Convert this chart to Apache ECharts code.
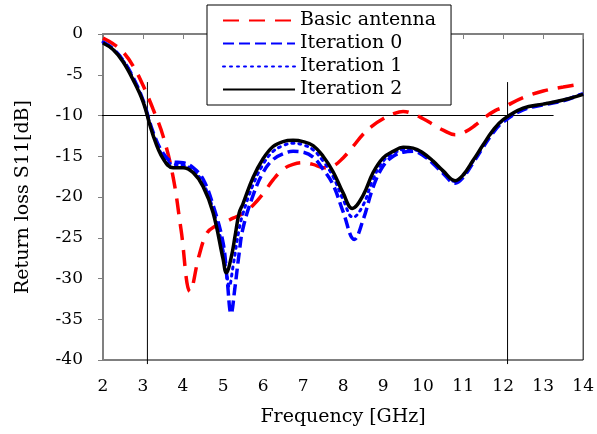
<!DOCTYPE html>
<html lang="en">
<head>
<meta charset="utf-8">
<title>Return loss S11</title>
<script src="https://cdn.jsdelivr.net/npm/echarts@6/dist/echarts.min.js"></script>
<style>
  html, body { margin: 0; padding: 0; background: #fff; }
  #chart { width: 597px; height: 434px; }
</style>
</head>
<body>
<div id="chart"></div>
<script type="text/javascript">
// tick labels
var xTicks = [2, 3, 4, 5, 6, 7, 8, 9, 10, 11, 12, 13, 14];
var yTicks = [0, -5, -10, -15, -20, -25, -30, -35, -40];

var seriesNames = ['Basic antenna', 'Iteration 0', 'Iteration 1', 'Iteration 2'];

// Basic antenna (GHz, dB)
var basicFreq = [2, 2.25, 2.5, 2.75, 3, 3.25, 3.5, 3.75, 3.95, 4.18, 4.4, 4.6, 4.8, 5, 5.25, 5.5, 5.75, 6, 6.25, 6.5, 6.75, 7, 7.25, 7.5, 7.75, 8, 8.25, 8.5, 8.75, 9, 9.25, 9.5, 9.75, 10, 10.25, 10.5, 10.8, 11.05, 11.3, 11.55, 11.8, 12, 12.5, 13, 13.5, 14];
var basicDb = [-0.5, -1.2, -2.2, -3.9, -6.3, -9.2, -12.5, -17.5, -24.0, -31.6, -27.2, -24.4, -23.6, -23.2, -22.6, -22.0, -21.0, -19.6, -17.9, -16.6, -16.0, -15.8, -16.0, -16.4, -16.2, -15.2, -13.8, -12.3, -11.2, -10.4, -9.8, -9.5, -9.8, -10.4, -11.1, -11.8, -12.35, -12.0, -11.2, -10.2, -9.4, -9.0, -7.8, -7.0, -6.5, -6.1];

// Iteration 0
var it0Freq = [2, 2.25, 2.5, 2.75, 3, 3.25, 3.5, 3.75, 4, 4.25, 4.5, 4.75, 5, 5.1, 5.2, 5.3, 5.4, 5.5, 5.75, 6, 6.25, 6.5, 6.75, 7, 7.25, 7.5, 7.75, 8, 8.28, 8.5, 8.75, 9, 9.25, 9.5, 9.75, 10, 10.25, 10.5, 10.8, 11, 11.25, 11.5, 11.75, 12, 12.5, 13, 13.5, 14];
var it0Db = [-1.0, -1.8, -3.2, -5.3, -8.1, -12.0, -14.6, -15.7, -15.8, -16.4, -17.8, -21.0, -25.6, -30.0, -34.3, -31.0, -27.0, -23.8, -19.8, -17.0, -15.4, -14.7, -14.4, -14.5, -15.1, -16.6, -18.5, -21.8, -25.2, -22.8, -18.8, -16.2, -15.0, -14.5, -14.4, -14.9, -15.9, -17.1, -18.3, -17.6, -15.8, -13.9, -12.1, -10.8, -9.3, -8.7, -8.2, -7.3];

// Iteration 1
var it1Freq = [2, 2.25, 2.5, 2.75, 3, 3.25, 3.5, 3.75, 4, 4.25, 4.5, 4.75, 5, 5.1, 5.15, 5.25, 5.4, 5.5, 5.75, 6, 6.25, 6.5, 6.75, 7, 7.25, 7.5, 7.75, 8, 8.25, 8.5, 8.75, 9, 9.25, 9.5, 9.75, 10, 10.25, 10.5, 10.8, 11, 11.25, 11.5, 11.75, 12, 12.5, 13, 13.5, 14];
var it1Db = [-1.0, -1.85, -3.25, -5.35, -8.2, -12.2, -15.0, -16.0, -16.1, -16.7, -18.3, -21.5, -26.5, -29.8, -31.0, -28.5, -24.0, -22.0, -18.5, -16.0, -14.4, -13.7, -13.4, -13.6, -14.2, -15.6, -17.5, -20.3, -22.5, -21.0, -17.8, -15.6, -14.7, -14.2, -14.2, -14.7, -15.7, -16.9, -18.1, -17.4, -15.6, -13.7, -11.9, -10.6, -9.2, -8.6, -8.1, -7.3];

// Iteration 2
var it2Freq = [2, 2.25, 2.5, 2.75, 3, 3.25, 3.5, 3.75, 4, 4.25, 4.5, 4.75, 5, 5.08, 5.2, 5.3, 5.4, 5.5, 5.75, 6, 6.25, 6.5, 6.75, 7, 7.25, 7.5, 7.75, 8, 8.23, 8.5, 8.75, 9, 9.25, 9.5, 9.75, 10, 10.25, 10.5, 10.8, 11, 11.25, 11.5, 11.75, 12, 12.5, 13, 13.5, 14];
var it2Db = [-1.1, -1.9, -3.4, -5.6, -8.3, -12.4, -15.3, -16.4, -16.4, -17.0, -18.7, -21.9, -27.6, -29.3, -27.5, -24.8, -22.0, -20.8, -17.6, -15.3, -13.8, -13.2, -13.05, -13.2, -13.7, -15.0, -16.9, -19.5, -21.4, -19.8, -17.0, -15.2, -14.4, -13.9, -14.0, -14.6, -15.6, -16.8, -18.0, -17.3, -15.5, -13.6, -11.8, -10.5, -9.1, -8.6, -8.1, -7.4];

// -10 dB marker and band edges
var markFreq = [1.44, 13.26, null, 3.11, 3.11, null, 12.11, 12.11];
var markDb = [-10, -10, null, -5.9, -40.5, null, -5.9, -40.5];

function pairs(xs, ys) {
  var out = [];
  for (var i = 0; i < xs.length; i++) {
    out.push(xs[i] === null ? [null, null] : [xs[i], ys[i]]);
  }
  return out;
}

var chart = echarts.init(document.getElementById('chart'));
var serif = 'DejaVu Serif';

chart.setOption({
  animation: false,
  backgroundColor: '#fff',
  grid: {
    left: 103, right: 11, top: 34, bottom: 74,
    show: true, borderColor: '#000', borderWidth: 1
  },
  legend: {
    data: seriesNames,
    orient: 'vertical',
    left: 207, top: 5,
    padding: [4, 15, 4, 15],
    itemWidth: 72, itemHeight: 14, itemGap: 0,
    itemStyle: { opacity: 0 },
    backgroundColor: '#fff',
    borderColor: '#000', borderWidth: 1,
    textStyle: { fontFamily: serif, fontSize: 19, lineHeight: 23, color: '#000' }
  },
  xAxis: {
    type: 'value', min: 2, max: 14, interval: 1,
    name: 'Frequency [GHz]', nameLocation: 'middle', nameGap: 48,
    nameTextStyle: { fontFamily: serif, fontSize: 19, color: '#000' },
    axisLine: { lineStyle: { color: '#808080', width: 2 } },
    axisTick: { inside: false, length: 5, lineStyle: { color: '#808080', width: 1 } },
    axisLabel: { fontFamily: serif, fontSize: 17, color: '#000', margin: 18,
      formatter: function (v) { return xTicks.indexOf(v) >= 0 ? String(v) : ''; } },
    splitLine: { show: false }
  },
  yAxis: {
    type: 'value', min: -40, max: 0, interval: 5,
    name: 'Return loss S11[dB]', nameLocation: 'middle', nameGap: 70,
    nameTextStyle: { fontFamily: serif, fontSize: 19, color: '#000' },
    axisLine: { show: true, lineStyle: { color: '#808080', width: 2 } },
    axisTick: { show: true, inside: false, length: 5, lineStyle: { color: '#808080', width: 1 } },
    axisLabel: { fontFamily: serif, fontSize: 17, color: '#000', margin: 20,
      formatter: function (v) { return yTicks.indexOf(v) >= 0 ? String(v) : ''; } },
    splitLine: { show: false }
  },
  series: [
    {
      name: 'markers', type: 'line', data: pairs(markFreq, markDb),
      showSymbol: false, symbol: 'none', clip: false, silent: true, z: 1,
      connectNulls: false,
      lineStyle: { color: '#000', width: 1 }
    },
    {
      name: seriesNames[0], type: 'line', data: pairs(basicFreq, basicDb),
      smooth: 0.4, symbol: 'none', z: 2,
      itemStyle: { color: '#ff0000' },
      lineStyle: { color: '#ff0000', width: 3.5, type: [16, 10] }
    },
    {
      name: seriesNames[1], type: 'line', data: pairs(it0Freq, it0Db),
      smooth: 0.4, symbol: 'none', z: 3,
      itemStyle: { color: '#0000ff' },
      lineStyle: { color: '#0000ff', width: 3.5, type: [11, 5] }
    },
    {
      name: seriesNames[2], type: 'line', data: pairs(it1Freq, it1Db),
      smooth: 0.4, symbol: 'none', z: 4,
      itemStyle: { color: '#0000ff' },
      lineStyle: { color: '#0000ff', width: 3, type: [2, 5], cap: 'round' }
    },
    {
      name: seriesNames[3], type: 'line', data: pairs(it2Freq, it2Db),
      smooth: 0.4, symbol: 'none', z: 5,
      itemStyle: { color: '#000' },
      lineStyle: { color: '#000', width: 3.5 }
    }
  ]
});
</script>
</body>
</html>
